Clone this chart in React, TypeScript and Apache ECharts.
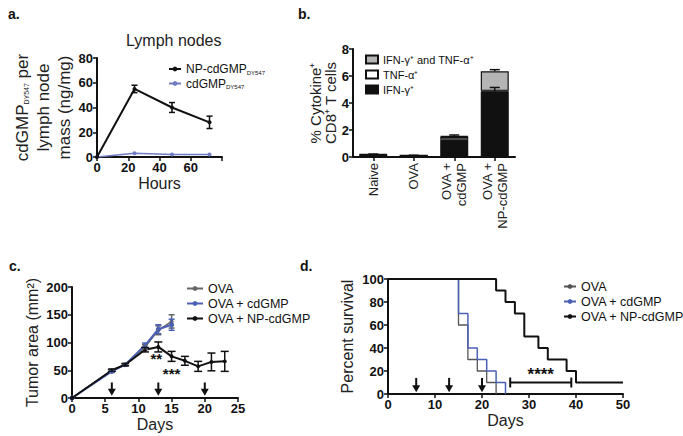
import React, { useEffect, useRef } from "react";
import * as echarts from "echarts";

// ---------- Panel a: lymph nodes ----------
const hoursA = [0, 24, 48, 72];
const npCdgmpA = [0, 55, 40, 28];
const npCdgmpAErr = [0, 3, 4, 5];
const cdgmpA = [0, 3, 2, 2];
const cdgmpAErr = [0, 0.6, 0.5, 0.5];

// ---------- Panel b: cytokine+ CD8 T cells ----------
const categoriesB = ["Naive", "OVA", "OVA +\ncdGMP", "OVA +\nNP-cdGMP"];
const ifnB = [0.15, 0.1, 1.3, 4.85];
const tnfB = [0.03, 0.01, 0.2, 0.05];
const bothB = [0.02, 0.01, 0.05, 1.45];
const ifnBErr = [0, 0, 0, 0.3];
const totalBErr = [0.02, 0.01, 0.08, 0.12];

// ---------- Panel c: tumor area ----------
const daysC = [0, 6, 8, 11, 13, 15];
const ovaC = [0, 50, 60, 92, 122, 138];
const ovaCErr = [0, 2, 2, 4, 8, 12];
const cdgmpC = [0, 48, 60, 95, 124, 132];
const cdgmpCErr = [0, 2, 2, 4, 8, 10];
const daysNpC = [0, 6, 8, 11, 13, 15, 17, 19, 21, 23];
const npC = [0, 50, 60, 87, 92, 75, 67, 57, 65, 66];
const npCErr = [0, 2, 2, 4, 9, 9, 8, 9, 16, 18];
const arrowDaysC = [6, 13, 20];
const starTextC = ["**", "***"];
const starDayC = [12.7, 15.0];
const starValC = [72, 45];

// ---------- Panel d: survival ----------
const survOvaDays = [0, 15, 17, 19, 21, 23];
const survOva = [100, 60, 30, 20, 10, 0];
const survCdgmpDays = [0, 15, 17, 19, 21, 23, 25];
const survCdgmp = [100, 70, 40, 30, 20, 10, 0];
const survNpDays = [0, 23, 25, 27, 29, 32, 34, 38, 40, 50];
const survNp = [100, 90, 80, 70, 50, 40, 30, 20, 10, 10];
const arrowDaysD = [6, 13, 20];
const sigRangeD = [26, 39];
const sigLevelD = 10;

const FONT = "Liberation Sans, Arial, Helvetica, sans-serif";
const BLUE_A = "#6f7cc4";
const BLUE = "#4a60b5";

function axisCommon(extra: any) {
  return {
    axisLine: { show: true, lineStyle: { color: "#111", width: 2 } },
    axisTick: { show: true, length: 4, lineStyle: { color: "#111", width: 1.5 } },
    splitLine: { show: false },
    axisLabel: { color: "#111", fontFamily: FONT, fontWeight: "bold", fontSize: 13, margin: 4 },
    nameTextStyle: { color: "#222", fontFamily: FONT, fontSize: 16 },
    ...extra,
  };
}

function errorBars(xi: number, xs: any[], ys: number[], errs: number[], color: string, cap: number, upOnly = false) {
  return {
    type: "custom",
    xAxisIndex: xi,
    yAxisIndex: xi,
    z: 6,
    silent: true,
    data: xs.map((x, i) => [x, ys[i], errs[i]]),
    renderItem: (params: any, api: any) => {
      const x = api.value(0);
      const y = api.value(1);
      const e = api.value(2);
      if (!e) return { type: "group", children: [] };
      const top = api.coord([x, y + e]);
      const bot = api.coord([x, upOnly ? y : y - e]);
      const st = { stroke: color, lineWidth: 1.5 };
      const ch: any[] = [
        { type: "line", shape: { x1: top[0], y1: top[1], x2: bot[0], y2: bot[1] }, style: st },
        { type: "line", shape: { x1: top[0] - cap, y1: top[1], x2: top[0] + cap, y2: top[1] }, style: st },
      ];
      if (!upOnly)
        ch.push({ type: "line", shape: { x1: bot[0] - cap, y1: bot[1], x2: bot[0] + cap, y2: bot[1] }, style: st });
      return { type: "group", children: ch };
    },
  };
}

function arrows(xi: number, days: number[], yTop: number, yBot: number) {
  return {
    type: "custom",
    xAxisIndex: xi,
    yAxisIndex: xi,
    z: 6,
    silent: true,
    data: days.map((d) => [d, yTop, yBot]),
    renderItem: (params: any, api: any) => {
      const t = api.coord([api.value(0), api.value(1)]);
      const b = api.coord([api.value(0), api.value(2)]);
      return {
        type: "group",
        children: [
          { type: "line", shape: { x1: t[0], y1: t[1], x2: b[0], y2: b[1] - 5 }, style: { stroke: "#111", lineWidth: 2 } },
          {
            type: "polygon",
            shape: { points: [[b[0] - 4, b[1] - 7], [b[0] + 4, b[1] - 7], [b[0], b[1]]] },
            style: { fill: "#111" },
          },
        ],
      };
    },
  };
}

function pairs(xs: number[], ys: number[]) {
  return xs.map((x, i) => [x, ys[i]]);
}

export default function App() {
  const ref = useRef<HTMLDivElement>(null);
  useEffect(() => {
    const chart = echarts.init(ref.current!, null, { renderer: "svg" });
    const legendText = { color: "#111", fontFamily: FONT, fontSize: 12 };
    const letter = { fontSize: 14, fontWeight: "bold", color: "#111", fontFamily: FONT };
    const option: any = {
      animation: false,
      backgroundColor: "#fff",
      textStyle: { fontFamily: FONT },
      title: [
        { text: "a.", left: 3, top: 2, textStyle: letter },
        { text: "b.", left: 293, top: 2, textStyle: letter },
        { text: "c.", left: 4, top: 254, textStyle: letter },
        { text: "d.", left: 295, top: 254, textStyle: letter },
        { text: "Lymph nodes", left: 121, top: 27, textStyle: { fontSize: 16, fontWeight: "normal", color: "#222", fontFamily: FONT } },
      ],
      grid: [
        { left: 97, top: 58, width: 125, height: 99 },
        { left: 353, top: 49, width: 162, height: 108 },
        { left: 72, top: 287, width: 166, height: 111 },
        { left: 388, top: 279, width: 235, height: 115 },
      ],
      legend: [
        {
          data: ["a:np", "a:cd"],
          orient: "vertical",
          left: 163,
          top: 58,
          itemWidth: 12,
          itemHeight: 6,
          itemGap: 2,
          formatter: (n: string) => (n === "a:np" ? "{m|NP-cdGMP}{s|DY547}" : "{m|cdGMP}{s|DY547}"),
          textStyle: {
            ...legendText,
            fontSize: 12,
            rich: {
              m: { fontSize: 12, fontFamily: FONT, color: "#111", lineHeight: 14 },
              s: { fontSize: 6, fontFamily: FONT, color: "#111", padding: [7, 0, 0, 0] },
            },
          },
        },
        {
          data: ["b:both", "b:tnf", "b:ifn"],
          orient: "vertical",
          left: 360,
          top: 49,
          icon: "rect",
          itemWidth: 12,
          itemHeight: 8,
          itemGap: 4,
          formatter: (n: string) =>
            n === "b:both" ? "IFN-γ⁺ and TNF-α⁺" : n === "b:tnf" ? "TNF-α⁺" : "IFN-γ⁺",
          textStyle: { ...legendText, fontSize: 11 },
        },
        {
          data: ["c:ova", "c:cd", "c:np"],
          orient: "vertical",
          left: 181,
          top: 277,
          itemWidth: 16,
          itemHeight: 6,
          itemGap: 2,
          formatter: (n: string) => (n === "c:ova" ? "OVA" : n === "c:cd" ? "OVA + cdGMP" : "OVA + NP-cdGMP"),
          textStyle: { ...legendText, fontSize: 12.5 },
        },
        {
          data: ["d:ova", "d:cd", "d:np"],
          orient: "vertical",
          left: 558,
          top: 275,
          itemWidth: 12,
          itemHeight: 6,
          itemGap: 2,
          formatter: (n: string) => (n === "d:ova" ? "OVA" : n === "d:cd" ? "OVA + cdGMP" : "OVA + NP-cdGMP"),
          textStyle: { ...legendText, fontSize: 12.5 },
        },
      ],
      xAxis: [
        axisCommon({
          gridIndex: 0, type: "value", min: 0, max: 80, interval: 20,
          name: "Hours", nameLocation: "middle", nameGap: 18,
          axisLabel: { color: "#111", fontFamily: FONT, fontWeight: "bold", fontSize: 13, margin: 4, formatter: (v: number) => (v === 80 ? "" : String(v)) },
        }),
        axisCommon({
          gridIndex: 1, type: "category", data: categoriesB,
          axisTick: { show: true, alignWithLabel: true, length: 4, lineStyle: { color: "#111", width: 1.5 } },
          axisLabel: { color: "#222", fontFamily: FONT, fontSize: 13, rotate: 90, margin: 6, lineHeight: 15, interval: 0 },
        }),
        axisCommon({ gridIndex: 2, type: "value", min: 0, max: 25, interval: 5, name: "Days", nameLocation: "middle", nameGap: 18 }),
        axisCommon({ gridIndex: 3, type: "value", min: 0, max: 50, interval: 10, name: "Days", nameLocation: "middle", nameGap: 18 }),
      ],
      yAxis: [
        axisCommon({
          gridIndex: 0, type: "value", min: 0, max: 80, interval: 20,
          name: "{t|cdGMP}{s|DY547}{t| per}\n{t|lymph node}\n{t|mass (ng/mg)}",
          nameLocation: "middle", nameRotate: 90, nameGap: 16,
          nameTextStyle: {
            color: "#222", fontFamily: FONT, fontSize: 17, lineHeight: 21,
            rich: {
              t: { fontSize: 17, fontFamily: FONT, color: "#222", lineHeight: 21 },
              s: { fontSize: 7, fontFamily: FONT, color: "#222", padding: [9, 0, 0, 0] },
            },
          },
        }),
        axisCommon({
          gridIndex: 1, type: "value", min: 0, max: 8, interval: 2,
          name: "% Cytokine⁺\nCD8⁺ T cells", nameLocation: "middle", nameRotate: 90, nameGap: 14,
          nameTextStyle: { color: "#222", fontFamily: FONT, fontSize: 15, lineHeight: 15 },
        }),
        axisCommon({
          gridIndex: 2, type: "value", min: 0, max: 200, interval: 50,
          name: "Tumor area (mm²)", nameLocation: "middle", nameRotate: 90, nameGap: 32,
        }),
        axisCommon({
          gridIndex: 3, type: "value", min: 0, max: 100, interval: 20,
          name: "Percent survival", nameLocation: "middle", nameRotate: 90, nameGap: 33,
        }),
      ],
      series: [
        // panel a
        {
          name: "a:np", type: "line", xAxisIndex: 0, yAxisIndex: 0, data: pairs(hoursA, npCdgmpA),
          symbol: "circle", symbolSize: 4, lineStyle: { color: "#111", width: 2 }, itemStyle: { color: "#111" }, z: 4,
        },
        {
          name: "a:cd", type: "line", xAxisIndex: 0, yAxisIndex: 0, data: pairs(hoursA, cdgmpA),
          symbol: "circle", symbolSize: 4, lineStyle: { color: BLUE_A, width: 1.5 }, itemStyle: { color: BLUE_A }, z: 3,
        },
        errorBars(0, hoursA, npCdgmpA, npCdgmpAErr, "#111", 3),
        // panel b
        {
          name: "b:ifn", type: "bar", xAxisIndex: 1, yAxisIndex: 1, stack: "b", data: ifnB, barWidth: 28,
          itemStyle: { color: "#111", borderColor: "#111", borderWidth: 1.2 },
        },
        {
          name: "b:tnf", type: "bar", xAxisIndex: 1, yAxisIndex: 1, stack: "b", data: tnfB, barWidth: 28,
          itemStyle: { color: "#fff", borderColor: "#111", borderWidth: 1.2 },
        },
        {
          name: "b:both", type: "bar", xAxisIndex: 1, yAxisIndex: 1, stack: "b", data: bothB, barWidth: 28,
          itemStyle: { color: "#b4b4b4", borderColor: "#111", borderWidth: 1.2 },
        },
        errorBars(1, [0, 1, 2, 3], ifnB, ifnBErr, "#111", 5, true),
        errorBars(
          1,
          [0, 1, 2, 3],
          ifnB.map((v, i) => v + tnfB[i] + bothB[i]),
          totalBErr,
          "#111",
          5,
          true
        ),
        // panel c
        {
          name: "c:ova", type: "line", xAxisIndex: 2, yAxisIndex: 2, data: pairs(daysC, ovaC),
          symbol: "circle", symbolSize: 4, lineStyle: { color: "#666", width: 1.5 }, itemStyle: { color: "#666" }, z: 3,
        },
        {
          name: "c:cd", type: "line", xAxisIndex: 2, yAxisIndex: 2, data: pairs(daysC, cdgmpC),
          symbol: "circle", symbolSize: 5, lineStyle: { color: BLUE, width: 2 }, itemStyle: { color: BLUE }, z: 3,
        },
        {
          name: "c:np", type: "line", xAxisIndex: 2, yAxisIndex: 2, data: pairs(daysNpC, npC),
          symbol: "circle", symbolSize: 4, lineStyle: { color: "#111", width: 2 }, itemStyle: { color: "#111" }, z: 4,
        },
        errorBars(2, daysC, ovaC, ovaCErr, "#666", 3),
        errorBars(2, daysC, cdgmpC, cdgmpCErr, BLUE, 3),
        errorBars(2, daysNpC, npC, npCErr, "#111", 4),
        arrows(2, arrowDaysC, 28, 4),
        {
          type: "custom", xAxisIndex: 2, yAxisIndex: 2, silent: true, z: 6,
          data: starDayC.map((d, i) => [d, starValC[i], i]),
          renderItem: (params: any, api: any) => {
            const p = api.coord([api.value(0), api.value(1)]);
            return {
              type: "text",
              x: p[0],
              y: p[1],
              style: {
                text: starTextC[api.value(2)],
                fill: "#111",
                font: "bold 15px " + FONT,
                align: "center",
                verticalAlign: "middle",
              },
            };
          },
        },
        // panel d
        {
          name: "d:ova", type: "line", xAxisIndex: 3, yAxisIndex: 3, data: pairs(survOvaDays, survOva), step: "end",
          symbol: "none", lineStyle: { color: "#555", width: 1.3 }, itemStyle: { color: "#555" }, z: 3,
        },
        {
          name: "d:cd", type: "line", xAxisIndex: 3, yAxisIndex: 3, data: pairs(survCdgmpDays, survCdgmp), step: "end",
          symbol: "none", lineStyle: { color: BLUE, width: 1.5 }, itemStyle: { color: BLUE }, z: 4,
        },
        {
          name: "d:np", type: "line", xAxisIndex: 3, yAxisIndex: 3, data: pairs(survNpDays, survNp), step: "end",
          symbol: "none", lineStyle: { color: "#111", width: 2 }, itemStyle: { color: "#111" }, z: 4,
        },
        arrows(3, arrowDaysD, 14, 1.5),
        {
          type: "custom", xAxisIndex: 3, yAxisIndex: 3, silent: true, z: 6,
          data: [[sigRangeD[0], sigLevelD, sigRangeD[1]]],
          renderItem: (params: any, api: any) => {
            const a = api.coord([api.value(0), api.value(1)]);
            const b = api.coord([api.value(2), api.value(1)]);
            const st = { stroke: "#111", lineWidth: 2 };
            return {
              type: "group",
              children: [
                { type: "line", shape: { x1: a[0], y1: a[1], x2: b[0], y2: b[1] }, style: st },
                { type: "line", shape: { x1: a[0], y1: a[1] - 5, x2: a[0], y2: a[1] + 5 }, style: st },
                { type: "line", shape: { x1: b[0], y1: b[1] - 5, x2: b[0], y2: b[1] + 5 }, style: st },
                {
                  type: "text",
                  x: (a[0] + b[0]) / 2,
                  y: a[1] - 8,
                  style: { text: "****", fill: "#111", font: "bold 17px " + FONT, align: "center", verticalAlign: "middle" },
                },
              ],
            };
          },
        },
      ],
    };
    chart.setOption(option);
    return () => chart.dispose();
  }, []);
  return (
    <div
      ref={ref}
      style={{ position: "fixed", left: 0, top: 0, width: 683, height: 436, background: "#fff" }}
    />
  );
}
